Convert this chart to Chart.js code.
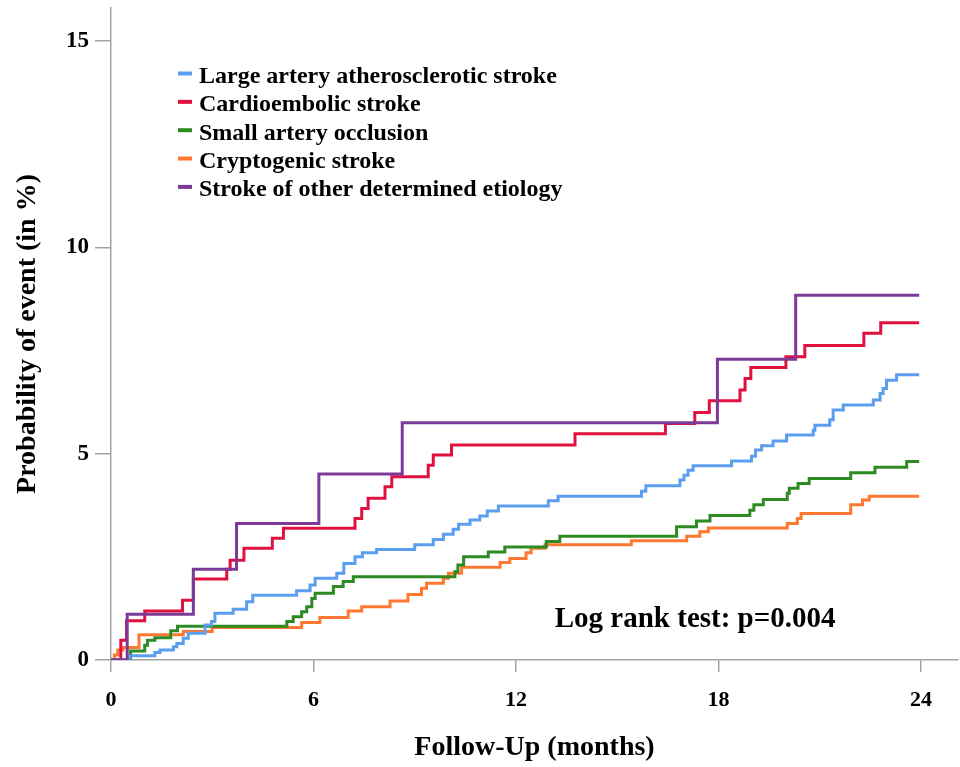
<!DOCTYPE html>
<html lang="en">
<head>
<meta charset="UTF-8">
<style>
  body { margin: 0; background: #fff; }
</style>
</head>
<body>
<canvas id="km-chart" width="960" height="767"></canvas>
<script src="https://cdn.jsdelivr.net/npm/chart.js@4.4.1/dist/chart.umd.min.js"></script>
<script>
// cumulative probability of event (%), event times in months
var groupNames = [
    "Large artery atherosclerotic stroke",
    "Cardioembolic stroke",
    "Small artery occlusion",
    "Cryptogenic stroke",
    "Stroke of other determined etiology"
];
var groupColors = ["#5b9ef0", "#e0103f", "#2e8b23", "#ff7832", "#7b3a96"];

var laaMonths = [0.56, 1.3, 1.45, 1.85, 1.95, 2.14, 2.29, 2.79, 2.98, 3.08, 3.62, 4.02, 4.2, 5.5, 5.9, 6.05, 6.69, 6.9, 7.23, 7.45, 7.87,
    9.0, 9.55, 9.85, 10.14, 10.3, 10.64, 10.93, 11.15, 11.48, 12.96, 13.25, 15.72, 15.85, 16.86, 16.98, 17.1, 17.25,
    18.39, 18.98, 19.1, 19.28, 19.62, 20.02, 20.81, 20.86, 21.3, 21.4, 21.7, 22.59, 22.79, 22.88, 22.98, 23.28];
var laaPct = [0.1, 0.18, 0.24, 0.32, 0.4, 0.53, 0.65, 0.85, 0.93, 1.13, 1.23, 1.41, 1.57, 1.68, 1.82, 1.98, 2.1, 2.34, 2.5, 2.6, 2.68,
    2.79, 2.92, 3.05, 3.17, 3.29, 3.39, 3.49, 3.61, 3.73, 3.86, 3.97, 4.09, 4.22, 4.36, 4.48, 4.6, 4.71,
    4.82, 4.94, 5.09, 5.19, 5.31, 5.45, 5.57, 5.69, 5.82, 6.06, 6.18, 6.3, 6.46, 6.58, 6.78, 6.91];

var ceMonths = [0.29, 0.46, 1.0, 2.12, 2.44, 3.43, 3.53, 3.94, 4.78, 5.11, 7.23, 7.43, 7.62, 8.12, 8.32, 9.4, 9.55, 10.09,
    13.75, 16.43, 17.3, 17.73, 18.64, 18.79, 18.96, 20.0, 20.56, 22.31, 22.81];
var cePct = [0.48, 0.95, 1.19, 1.45, 1.96, 2.2, 2.42, 2.71, 2.95, 3.19, 3.43, 3.67, 3.92, 4.2, 4.44, 4.72, 4.97, 5.21,
    5.48, 5.73, 6.0, 6.28, 6.54, 6.82, 7.09, 7.35, 7.62, 7.92, 8.17];

var saoMonths = [0.58, 1.0, 1.08, 1.3, 1.77, 1.97, 5.21, 5.4, 5.65, 5.8, 5.95, 6.05, 6.59, 6.88, 7.18, 10.19, 10.28, 10.45,
    11.18, 11.67, 12.9, 13.3, 16.76, 17.35, 17.75, 18.93, 19.05, 19.33, 20.04, 20.1, 20.36, 20.69, 21.92, 22.64, 23.58];
var saoPct = [0.22, 0.36, 0.48, 0.54, 0.71, 0.82, 0.93, 1.05, 1.17, 1.29, 1.49, 1.62, 1.78, 1.9, 2.02, 2.14, 2.3, 2.5,
    2.62, 2.74, 2.87, 3.0, 3.23, 3.37, 3.5, 3.63, 3.76, 3.89, 4.04, 4.16, 4.28, 4.4, 4.54, 4.67, 4.81];

var cryMonths = [0.1, 0.2, 0.35, 0.83, 2.14, 3.0, 5.65, 6.19, 7.03, 7.43, 8.27, 8.8, 9.2, 9.35, 9.85, 10.0, 10.39, 11.53, 11.82,
    12.3, 12.45, 12.86, 15.42, 17.06, 17.45, 17.7, 20.04, 20.34, 20.45, 21.92, 22.27, 22.47];
var cryPct = [0.12, 0.24, 0.3, 0.61, 0.69, 0.79, 0.91, 1.03, 1.19, 1.29, 1.43, 1.59, 1.74, 1.86, 1.98, 2.1, 2.25, 2.36, 2.46,
    2.6, 2.71, 2.79, 2.89, 3.0, 3.11, 3.2, 3.31, 3.43, 3.55, 3.76, 3.88, 3.97];

var otherMonths = [0.48, 2.44, 3.72, 6.16, 8.63, 17.97, 20.29];
var otherPct = [1.11, 2.2, 3.31, 4.51, 5.75, 7.29, 8.84];

var followUpEnd = 23.95;
var xTicks = [0, 6, 12, 18, 24];
var yTicks = [0, 5, 10, 15];
var logRankText = "Log rank test: p=0.004";

var serif = '"Liberation Serif", "Times New Roman", serif';

function stepPoints(months, pct) {
    var pts = [{ x: 0, y: 0 }];
    for (var i = 0; i < months.length; i++) {
        pts.push({ x: months[i], y: pct[i] });
    }
    pts.push({ x: followUpEnd, y: pct[pct.length - 1] });
    return pts;
}

var allMonths = [laaMonths, ceMonths, saoMonths, cryMonths, otherMonths];
var allPct = [laaPct, cePct, saoPct, cryPct, otherPct];

var datasets = [];
for (var g = 0; g < groupNames.length; g++) {
    datasets.push({
        label: groupNames[g],
        data: stepPoints(allMonths[g], allPct[g]),
        borderColor: groupColors[g],
        backgroundColor: groupColors[g],
        borderWidth: 3,
        stepped: 'before',
        pointRadius: 0,
        fill: false,
        order: g == 4 ? -1 : 0
    });
}

// legend inside the plot + log rank note
var kmText = {
    id: 'kmText',
    afterDraw: function (chart) {
        var ctx = chart.ctx;
        ctx.save();
        ctx.font = 'bold 24px ' + serif;
        ctx.textBaseline = 'alphabetic';
        ctx.textAlign = 'left';
        for (var i = 0; i < groupNames.length; i++) {
            var base = 83 + i * 28.35;
            ctx.strokeStyle = groupColors[i];
            ctx.lineWidth = 4;
            ctx.beginPath();
            ctx.moveTo(178, base - 9.5);
            ctx.lineTo(192, base - 9.5);
            ctx.stroke();
            ctx.fillStyle = '#000';
            ctx.fillText(groupNames[i], 199, base);
        }
        var xs = chart.scales.x, ys = chart.scales.y;
        ctx.font = 'bold 29px ' + serif;
        ctx.fillText(logRankText, xs.getPixelForValue(13.15), ys.getPixelForValue(0.8));
        ctx.restore();
    }
};

var axisGrey = '#a3a3a3';

new Chart(document.getElementById('km-chart').getContext('2d'), {
    type: 'line',
    data: { datasets: datasets },
    plugins: [kmText],
    options: {
        responsive: false,
        animation: false,
        layout: { padding: { top: 8, right: 2, left: 0, bottom: 0 } },
        plugins: { legend: { display: false }, tooltip: { enabled: false } },
        scales: {
            x: {
                type: 'linear',
                min: 0,
                max: 25.1,
                afterBuildTicks: function (s) { s.ticks = xTicks.map(function (v) { return { value: v }; }); },
                afterFit: function (s) { s.height = 107; s.paddingLeft = 0; s.paddingRight = 0; },
                grid: { drawOnChartArea: false, drawTicks: true, tickLength: 12, color: axisGrey, tickColor: axisGrey, lineWidth: 1.5 },
                border: { color: axisGrey, width: 1.5 },
                ticks: { color: '#000', font: { family: serif, size: 22, weight: 'bold' }, padding: 15, maxRotation: 0 },
                title: { display: true, text: 'Follow-Up (months)', color: '#000', font: { family: serif, size: 28, weight: 'bold' }, padding: { top: 0, bottom: 2 } }
            },
            y: {
                min: 0,
                max: 15.8,
                afterBuildTicks: function (s) { s.ticks = yTicks.map(function (v) { return { value: v }; }); },
                afterFit: function (s) { s.width = 111; s.paddingTop = 0; s.paddingBottom = 0; },
                grid: { drawOnChartArea: false, drawTicks: true, tickLength: 16, color: axisGrey, tickColor: axisGrey, lineWidth: 1.5 },
                border: { color: axisGrey, width: 1.5 },
                ticks: { color: '#000', font: { family: serif, size: 23, weight: 'bold' }, padding: 6 },
                title: { display: true, text: 'Probability of event (in %)', color: '#000', font: { family: serif, size: 28, weight: 'bold' }, padding: { top: 11, bottom: 0 } }
            }
        }
    }
});
</script>
</body>
</html>
